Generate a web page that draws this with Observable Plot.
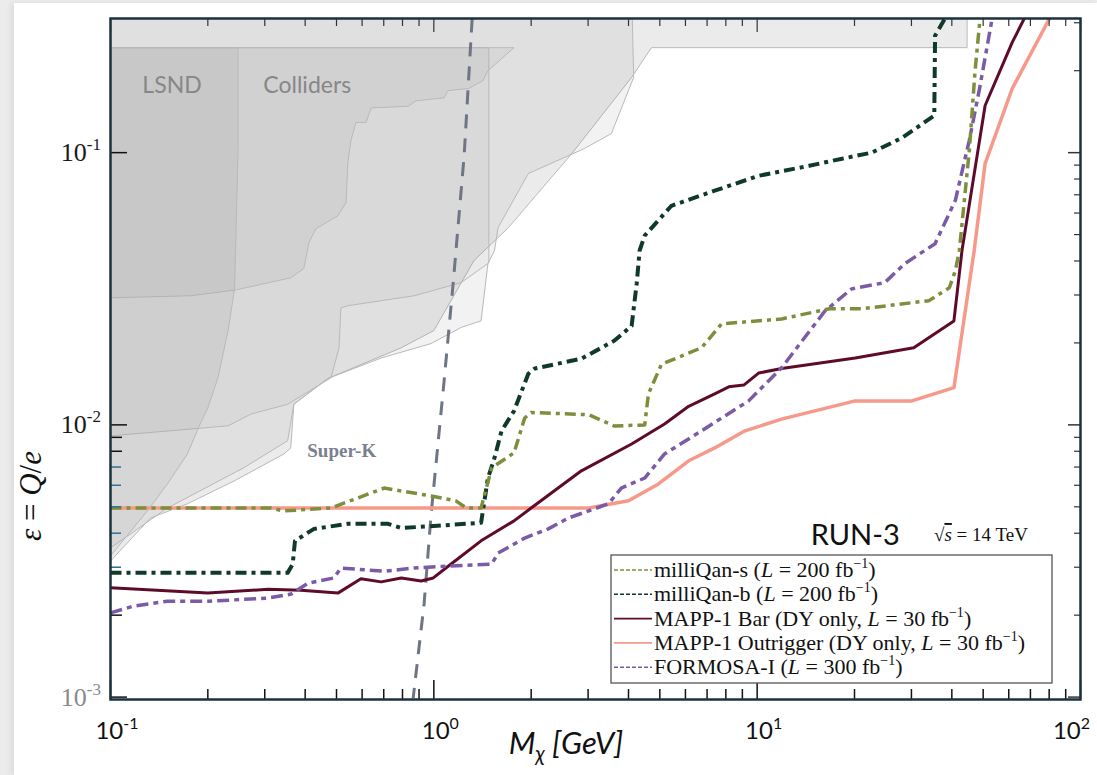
<!DOCTYPE html>
<html><head><meta charset="utf-8">
<script src="https://cdn.jsdelivr.net/npm/d3@7"></script>
<script src="https://cdn.jsdelivr.net/npm/@observablehq/plot@0.6"></script>
<style>
html,body{margin:0;padding:0;background:#ececec;width:1097px;height:775px;overflow:hidden;}
#panel{position:absolute;left:14px;top:3px;width:1083px;height:772px;background:#fff;box-shadow:-3px 0 6px rgba(0,0,0,0.07);}
#chart{position:absolute;left:0;top:0;}
</style></head><body><div id="panel"></div><div id="chart"></div>
<script>
// ---------- data (mass in GeV, epsilon = Q/e) ----------
const milliQanS = [[0.1,0.00495],[0.313,0.00495],[0.343,0.00483],[0.481,0.00495],[0.702,0.00586],[0.982,0.00548],[1.17,0.00526],[1.26,0.00495],[1.40,0.00495],[1.51,0.00695],[1.77,0.00789],[1.91,0.0106],[2.00,0.0111],[3.01,0.0109],[3.62,0.0099],[4.49,0.0100],[4.61,0.0130],[5.06,0.0167],[6.73,0.0192],[7.76,0.0235],[11.9,0.0245],[16.7,0.0267],[21.1,0.0267],[34.0,0.0286],[39.3,0.0319],[41.0,0.0368],[42.2,0.0437],[45.3,0.1016],[47.2,0.200],[48.9,0.311]];
const milliQanB = [[0.1,0.00286],[0.353,0.00286],[0.366,0.00308],[0.372,0.00375],[0.426,0.00415],[0.542,0.00433],[0.722,0.00433],[0.793,0.00418],[1.00,0.00425],[1.40,0.00437],[1.47,0.00638],[1.54,0.00756],[1.62,0.00951],[1.77,0.01125],[1.96,0.0154],[2.05,0.0161],[2.86,0.0175],[3.62,0.0204],[4.09,0.0231],[4.24,0.0330],[4.33,0.0437],[4.49,0.0496],[5.43,0.0638],[7.39,0.0725],[10.1,0.0822],[14.5,0.0895],[18.3,0.0950],[22.6,0.1000],[28.1,0.1135],[35.3,0.1368],[35.5,0.269],[38.1,0.311]];
const mappBar = [[0.1,0.00252],[0.200,0.00241],[0.307,0.00249],[0.388,0.00247],[0.505,0.00241],[0.595,0.00272],[0.687,0.00265],[0.793,0.00274],[0.914,0.00267],[0.996,0.00274],[1.11,0.00303],[1.40,0.00375],[1.77,0.00444],[2.00,0.00495],[2.86,0.00678],[4.09,0.00851],[5.17,0.01008],[6.14,0.0117],[7.39,0.0130],[8.17,0.0138],[9.09,0.0140],[10.1,0.0155],[11.9,0.0161],[20.1,0.0176],[30.5,0.0192],[40.6,0.0241],[43.0,0.0437],[50.7,0.149],[61.5,0.254],[67.0,0.311]];
const mappOutrigger = [[0.1,0.00495],[3.01,0.00495],[4.00,0.00526],[4.95,0.00607],[6.14,0.00738],[7.39,0.00823],[9.17,0.00951],[11.9,0.0105],[20.1,0.01225],[30.1,0.01225],[40.6,0.0137],[46.9,0.0437],[50.7,0.0912],[61.5,0.172],[80.2,0.311]];
const formosa = [[0.1,0.00204],[0.118,0.00216],[0.150,0.00225],[0.200,0.00225],[0.307,0.00231],[0.362,0.00239],[0.408,0.00262],[0.491,0.00274],[0.516,0.00298],[0.702,0.00290],[0.869,0.00298],[1.11,0.00303],[1.51,0.00308],[1.58,0.00338],[1.91,0.00384],[2.26,0.00415],[2.61,0.00455],[3.47,0.00513],[3.80,0.00586],[4.49,0.00638],[5.17,0.00782],[6.73,0.00951],[9.41,0.01225],[11.9,0.0162],[16.2,0.0262],[19.6,0.0316],[24.8,0.0333],[28.6,0.0391],[35.5,0.0463],[41.0,0.0667],[45.3,0.111],[48.6,0.169],[53.3,0.311]];
const grayBound = [[1.314,0.311],[1.241,0.0975],[1.148,0.0333],[1.076,0.01452],[0.981,0.00471],[0.933,0.00220],[0.863,0.00099]];

// excluded regions (outlines)
const regionOuter = [[0.1,0.4],[44.6,0.4],[44.6,0.243],[4.71,0.243],[4.09,0.189],[2.67,0.0991],[1.70,0.0530],[1.33,0.0401],[1.00,0.0222],[0.793,0.0192],[0.470,0.0148],[0.369,0.0119],[0.361,0.00823],[0.344,0.00782],[0.241,0.00622],[0.173,0.00513],[0.133,0.00455],[0.1,0.00316]];
const regionMid = [[0.1,0.4],[4.09,0.4],[4.15,0.189],[3.54,0.1175],[2.92,0.1035],[1.96,0.0838],[1.58,0.0530],[1.54,0.0437],[1.47,0.0391],[1.40,0.0241],[1.215,0.0228],[0.981,0.0199],[0.687,0.0176],[0.470,0.0148],[0.369,0.0119],[0.353,0.00874],[0.258,0.00695],[0.150,0.00495],[0.1,0.00353]];
const regionInner = [[0.1,0.243],[1.48,0.243],[1.48,0.0394],[1.215,0.0333],[0.869,0.0298],[0.542,0.0274],[0.516,0.0269],[0.509,0.0192],[0.481,0.0149],[0.353,0.0119],[0.272,0.01096],[0.231,0.00992],[0.1,0.00911]];
const regionColliders = [[0.1,0.243],[1.77,0.243],[1.47,0.200],[1.42,0.184],[1.28,0.172],[1.107,0.169],[1.076,0.159],[0.881,0.155],[0.832,0.148],[0.640,0.146],[0.617,0.129],[0.574,0.129],[0.554,0.1107],[0.542,0.0918],[0.535,0.0655],[0.505,0.0586],[0.432,0.0526],[0.411,0.0467],[0.396,0.0375],[0.361,0.0347],[0.244,0.0313],[0.177,0.0298],[0.1,0.0293]];
const regionLSND = [[0.1,0.243],[0.248,0.243],[0.248,0.1016],[0.242,0.0316],[0.231,0.0222],[0.215,0.0149],[0.200,0.01155],[0.187,0.00975],[0.173,0.00782],[0.150,0.00607],[0.130,0.00483],[0.1,0.00330]];

// tick values and labels
const xMajor = [0.1, 1, 10, 100];
const xMajorExp = ["-1", "0", "1", "2"];
const xMinor = [0.2,0.3,0.4,0.5,0.6,0.7,0.8,0.9,2,3,4,5,6,7,8,9,20,30,40,50,60,70,80,90];
const yMajor = [0.001, 0.01, 0.1];
const yMajorExp = ["-3", "-2", "-1"];
const yMinorAll = [0.002,0.003,0.004,0.005,0.006,0.007,0.008,0.009,0.02,0.03,0.04,0.05,0.06,0.07,0.08,0.09,0.2,0.3];
const yMinorLeftBlack = [0.002,0.008,0.009];
const yMinorLeftBlue = [0.003,0.004,0.005,0.006,0.007];

// annotations
const sansLabels = ["LSND", "Colliders"];
const sansLabelX = [0.155, 0.406];
const sansLabelY = [0.176, 0.176];
const superK = {text: "Super-K", x: 0.519, y: 0.0080};
const runLabel = {text: "RUN-3", x: 20.1, y: 0.00391};

// legend
const legendNames = ["milliQan-s (", "milliQan-b (", "MAPP-1 Bar (DY only, ", "MAPP-1 Outrigger (DY only, ", "FORMOSA-I ("];
const legendLumi = ["200", "200", "30", "30", "300"];
const seriesColors = ["#7d8f3c", "#0f3a28", "#5e0b2b", "#f6998a", "#7b5aa6"];
const legendDash = ["4,2", "4,2", null, null, "4,2"];

const dashDot = "11,5,4,5";
const clipLine = {clip: true, strokeLinejoin: "round", strokeLinecap: "butt"};
const poly = {curve: "linear-closed", stroke: "#b9b9b9", strokeWidth: 1, fill: "#808080", clip: true};

const chart = Plot.plot({
  width: 1097, height: 775,
  marginLeft: 110, marginRight: 17, marginTop: 18, marginBottom: 76,
  style: {background: "transparent", overflow: "visible"},
  x: {type: "log", domain: [0.1, 100]},
  y: {type: "log", domain: [0.00098, 0.311]},
  marks: [
    Plot.line(regionOuter, {...poly, fillOpacity: 0.16}),
    Plot.line(regionMid, {...poly, fillOpacity: 0.10}),
    Plot.line(regionInner, {...poly, fillOpacity: 0.075}),
    Plot.line(regionColliders, {...poly, fillOpacity: 0.09}),
    Plot.line(regionLSND, {...poly, fillOpacity: 0.10}),
    Plot.text(sansLabels, {x: (d,i) => sansLabelX[i], y: (d,i) => sansLabelY[i], text: d => d, fontFamily: "Lato, 'Open Sans', sans-serif", fontSize: 23, fill: "#878787"}),
    Plot.text([superK], {x: "x", y: "y", text: "text", fontFamily: "'Liberation Serif', serif", fontWeight: "bold", fontSize: 19, fill: "#7a808e"}),
    Plot.line(grayBound, {...clipLine, stroke: "#6e7584", strokeWidth: 3, strokeDasharray: "14,10"}),
    Plot.line(mappOutrigger, {...clipLine, stroke: seriesColors[3], strokeWidth: 3.5}),
    Plot.line(mappBar, {...clipLine, stroke: seriesColors[2], strokeWidth: 3}),
    Plot.line(formosa, {...clipLine, stroke: seriesColors[4], strokeWidth: 3.5, strokeDasharray: "12,5,5,5"}),
    Plot.line(milliQanB, {...clipLine, stroke: seriesColors[1], strokeWidth: 4, strokeDasharray: dashDot}),
    Plot.line(milliQanS, {...clipLine, stroke: seriesColors[0], strokeWidth: 3.5, strokeDasharray: dashDot}),
    Plot.text([runLabel], {x: "x", y: "y", text: "text", fontFamily: "Lato, 'Open Sans', sans-serif", fontSize: 29, fill: "#111"}),
    // ticks (inward)
    Plot.axisX({anchor: "bottom", ticks: xMajor, tickSize: -19, tickFormat: () => "", label: null, stroke: "#111", strokeWidth: 1.5}),
    Plot.axisX({anchor: "bottom", ticks: xMinor, tickSize: -10, tickFormat: () => "", label: null, stroke: "#111", strokeWidth: 1.5}),
    Plot.axisX({anchor: "top", ticks: xMajor, tickSize: -13, tickFormat: () => "", label: null, stroke: "#333", strokeWidth: 1.2}),
    Plot.axisX({anchor: "top", ticks: xMinor, tickSize: -7, tickFormat: () => "", label: null, stroke: "#333", strokeWidth: 1.2}),
    Plot.axisY({anchor: "left", ticks: yMajor, tickSize: -17, tickFormat: () => "", label: null, stroke: "#111", strokeWidth: 1.5}),
    Plot.axisY({anchor: "left", ticks: yMinorLeftBlack, tickSize: -12, tickFormat: () => "", label: null, stroke: "#111", strokeWidth: 1.5}),
    Plot.axisY({anchor: "left", ticks: yMinorLeftBlue, tickSize: -11, tickFormat: () => "", label: null, stroke: "#2f6f9f", strokeWidth: 1.5}),
    Plot.axisY({anchor: "right", ticks: yMajor, tickSize: -13, tickFormat: () => "", label: null, stroke: "#333", strokeWidth: 1.5}),
    Plot.axisY({anchor: "right", ticks: yMinorAll, tickSize: -7, tickFormat: () => "", label: null, stroke: "#333", strokeWidth: 1.2}),
    Plot.frame({stroke: "#1b323c", strokeWidth: 2.5})
  ]
});
document.getElementById("chart").appendChild(chart);

// ---------- rich text (superscripts etc.) positioned with Plot's scales ----------
const sx = v => chart.scale("x").apply(v);
const sy = v => chart.scale("y").apply(v);
const svg = d3.select(chart);

yMajor.forEach((v, i) => {
  const t = svg.append("text").attr("x", 101).attr("y", sy(v) + 9)
    .attr("text-anchor", "end").attr("font-family", "'Liberation Serif', serif")
    .attr("font-size", 26).attr("fill", i === 0 ? "#8a8a8a" : "#1a1a1a");
  t.append("tspan").text("10");
  t.append("tspan").attr("dy", -11).attr("font-size", 17).text(yMajorExp[i]);
});
xMajor.forEach((v, i) => {
  const last = i === xMajor.length - 1;
  const t = svg.append("text").attr("x", last ? sx(v) + 10 : sx(v) + 7).attr("y", 739)
    .attr("text-anchor", last ? "end" : "middle").attr("font-family", "Lato, 'Open Sans', sans-serif")
    .attr("font-size", 24).attr("fill", "#111");
  t.append("tspan").text("10");
  t.append("tspan").attr("dy", -10).attr("font-size", 16).text(xMajorExp[i]);
});

// sqrt(s) label
const es = svg.append("text").attr("x", 934).attr("y", 541).attr("text-anchor", "start")
  .attr("font-family", "'Liberation Serif', serif").attr("font-size", 19).attr("fill", "#111");
es.append("tspan").text("√");
es.append("tspan").attr("font-style", "italic").attr("text-decoration", "overline").text("s");
es.append("tspan").text(" = 14 TeV");

// axis titles
const xt = svg.append("text").attr("x", 566).attr("y", 754).attr("text-anchor", "middle")
  .attr("font-family", "Lato, 'Open Sans', sans-serif").attr("font-style", "italic")
  .attr("font-size", 31).attr("fill", "#111");
xt.append("tspan").text("M");
xt.append("tspan").attr("dy", 7).attr("font-size", 21).text("χ");
xt.append("tspan").attr("dy", -7).text(" [GeV]");

const yt = svg.append("text").attr("x", 0).attr("y", 0)
  .attr("transform", "translate(41,496) rotate(-90)").attr("text-anchor", "middle")
  .attr("font-family", "'Liberation Serif', serif").attr("font-size", 31).attr("fill", "#111");
yt.append("tspan").attr("font-style", "italic").text("ε");
yt.append("tspan").text(" = ");
yt.append("tspan").attr("font-style", "italic").text("Q");
yt.append("tspan").text("/");
yt.append("tspan").attr("font-style", "italic").text("e");

// legend
const lg = svg.append("g").attr("text-anchor", "start");
lg.append("rect").attr("x", 611).attr("y", 555).attr("width", 441).attr("height", 128)
  .attr("fill", "#fff").attr("stroke", "#555").attr("stroke-width", 1.3);
legendNames.forEach((name, i) => {
  const cy = 570 + i * 24.3;
  const ln = lg.append("line").attr("x1", 614).attr("x2", 652).attr("y1", cy).attr("y2", cy)
    .attr("stroke", seriesColors[i]).attr("stroke-width", 1.6);
  if (legendDash[i]) ln.attr("stroke-dasharray", legendDash[i]);
  const t = lg.append("text").attr("x", 654).attr("y", cy + 7).attr("text-anchor", "start")
    .attr("font-family", "'Liberation Serif', serif").attr("font-size", 22).attr("fill", "#111");
  t.append("tspan").text(name);
  t.append("tspan").attr("font-style", "italic").text("L");
  t.append("tspan").text(" = " + legendLumi[i] + " fb");
  t.append("tspan").attr("dy", -9).attr("font-size", 14).text("−1");
  t.append("tspan").attr("dy", 9).text(")");
});
</script></body></html>
